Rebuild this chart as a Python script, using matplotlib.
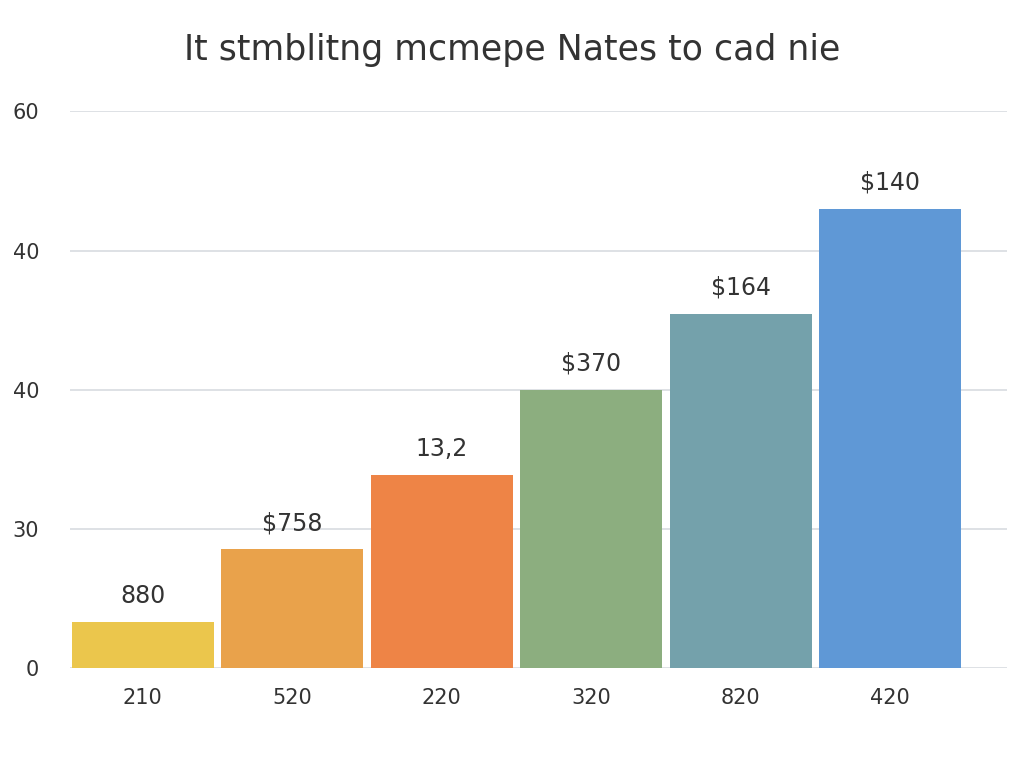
import matplotlib
matplotlib.use("Agg")
import matplotlib.pyplot as plt

categories = ["210", "520", "220", "320", "820", "420"]
values = [5.0, 12.8, 20.8, 30.0, 38.2, 49.5]
value_labels = ["880", "$758", "13,2", "$370", "$164", "$140"]
colors = ["#EBC64C", "#E9A24B", "#EE8446", "#8CAE7F", "#74A1AB", "#5F98D6"]
ytick_vals = [0, 15, 30, 45, 60]
ytick_labels = ["0", "30", "40", "40", "60"]
title = "It stmblitng mcmepe Nates to cad nie"

fig = plt.figure(figsize=(10.24, 7.68), dpi=100)
ax = fig.add_axes([0.068, 0.13, 0.915, 0.725])
x = range(len(categories))
ax.bar(x, values, width=0.95, color=colors, zorder=3)
for xi, v, lab in zip(x, values, value_labels):
    ax.text(xi, v + 1.5, lab, ha="center", va="bottom", fontsize=17, color="#333333")
ax.set_xlim(-0.49, 5.78)
ax.set_ylim(0, 60)
ax.set_yticks(ytick_vals)
ax.set_yticklabels(ytick_labels, fontsize=15, color="#333333")
ax.set_xticks(list(x))
ax.set_xticklabels(categories, fontsize=15, color="#333333")
ax.tick_params(length=0, pad=14)
ax.tick_params(axis="y", pad=22)
for s in ax.spines.values():
    s.set_visible(False)
ax.grid(axis="y", color="#D8DCE0", linewidth=1.2, zorder=0)
fig.text(0.5, 0.935, title, ha="center", va="center", fontsize=25, color="#333333")
fig.savefig("out.png", dpi=100, facecolor="white")
